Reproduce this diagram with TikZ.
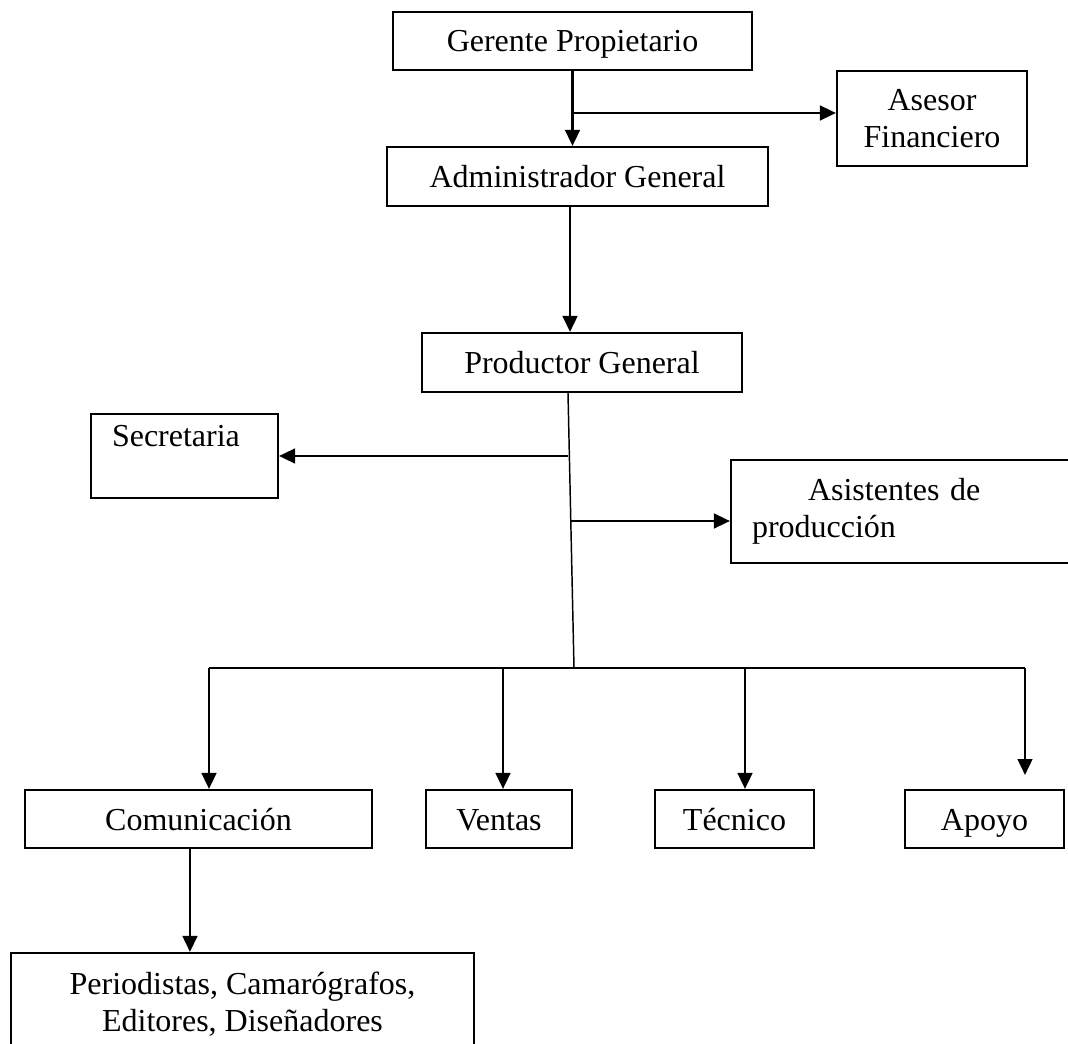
\documentclass[tikz,border=0pt]{standalone}
\usepackage{fontspec}
\setmainfont{Liberation Serif}
\usetikzlibrary{positioning,calc,arrows.meta}

\tikzset{
  box/.style={draw, line width=1.6pt, inner sep=0pt, font=\fontsize{24}{28}\selectfont},
  single/.style={text height=16.5pt, text depth=0pt},
  arr/.style={line width=1.9pt, -{Triangle[length=12pt,width=11pt]}},
  tree/.style={line width=1.1pt}
}

\begin{document}
\begin{tikzpicture}[x=0.75pt,y=-0.75pt]
        \clip (0,0) rectangle (1068,1044);
        \fill[white] (0,0) rectangle (1068,1044);
        % top of the chart
        \node[box, single, minimum width=269.25pt, minimum height=43.5pt] (gerente) at (572.5,41) {Gerente Propietario};
        \node[box, minimum width=142.5pt, minimum height=71.25pt, align=center] (asesor) at (932,118.5) {Asesor\\Financiero};
        \node[box, single, minimum width=285.75pt, minimum height=44.25pt] (admin) at (577.5,176.5) {Administrador General};
        \node[box, single, minimum width=240pt, minimum height=44.25pt] (productor) at (582,362.5) {Productor General};
        \node[box, inner xsep=15.75pt, text width=108.75pt, text height=24.75pt, text depth=38.25pt, align=left] (secretaria) at (184.5,456) {Secretaria};
        \node[box, inner xsep=15.75pt, text width=230.25pt, minimum height=77.25pt, align=left] (asistentes) at (905.5,511.5) {\hspace*{42pt}Asistentes de\\producción};
        % departments
        \node[box, single, minimum width=260.25pt, minimum height=43.5pt] (comunicacion) at (198.5,819) {Comunicación};
        \node[box, single, minimum width=109.5pt, minimum height=43.5pt] (ventas) at (499,819) {Ventas};
        \node[box, single, minimum width=119.25pt, minimum height=43.5pt] (tecnico) at (734.5,819) {Técnico};
        \node[box, single, minimum width=119.25pt, minimum height=43.5pt] (apoyo) at (984.5,819) {Apoyo};
        \node[box, minimum width=347.25pt, minimum height=77.25pt, align=center] (periodistas) at (242.5,1004.5) {Periodistas, Camarógrafos,\\Editores, Diseñadores};

        \coordinate (gb) at (573,113);
        \coordinate (sb) at (568,456);
        \coordinate (ab) at (571,521);
        \coordinate (bus) at (574,668);
        \coordinate (d1) at (209,668);
        \coordinate (d2) at (503,668);
        \coordinate (d3) at (745,668);
        \coordinate (d4) at (1025,668);
        \coordinate (d4e) at (1025,775);

        \draw[arr] (gerente.south) -- (gerente.south |- admin.north);
        \draw[arr] (gb) -- (gb -| asesor.west);
        \draw[arr] ([xshift=-5.6pt]admin.south) -- ([xshift=-5.6pt]admin.south |- productor.north);
        \draw[tree] ([xshift=-10.5pt]productor.south) -- (bus);
        \draw[arr] (sb) -- (secretaria.east);
        \draw[arr] (ab) -- (ab -| asistentes.west);
        \draw[tree] (d1) -- (d4);
        \draw[arr] (d1) -- (d1 |- comunicacion.north);
        \draw[arr] (d2) -- (d2 |- ventas.north);
        \draw[arr] (d3) -- (d3 |- tecnico.north);
        \draw[arr] (d4) -- (d4e);
        \draw[arr] ([xshift=-6.4pt]comunicacion.south) -- ([xshift=-6.4pt]comunicacion.south |- periodistas.north);
    \end{tikzpicture}
\end{document}
